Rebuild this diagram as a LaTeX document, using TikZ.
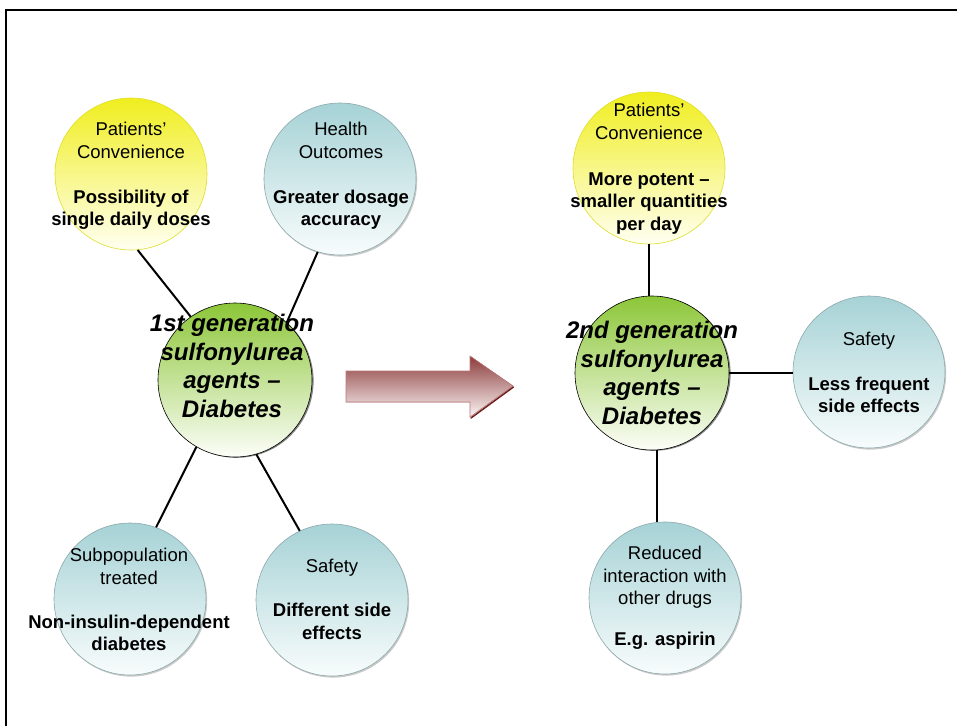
\documentclass[tikz,border=0pt]{standalone}
\usepackage{fontspec}
\setmainfont{Liberation Sans}
\usetikzlibrary{shadows}

\definecolor{yelTop}{RGB}{240,238,30}
\definecolor{yelBot}{RGB}{255,255,242}
\definecolor{yelEdge}{RGB}{222,222,40}
\definecolor{bluTop}{RGB}{166,210,214}
\definecolor{bluBot}{RGB}{248,252,252}
\definecolor{bluEdge}{RGB}{140,168,170}
\definecolor{grnTop}{RGB}{140,198,56}
\definecolor{grnBot}{RGB}{252,254,248}
\definecolor{arrTop}{RGB}{140,60,60}
\definecolor{arrBot}{RGB}{252,246,246}
\definecolor{arrEdge}{RGB}{190,120,120}
\definecolor{arrDark}{RGB}{110,28,28}

\begin{document}
\begin{tikzpicture}[x=1pt,y=-1pt,
  bubble/.style={circle, minimum size=152pt, inner sep=0pt, line width=0.6pt},
  yellowbub/.style={bubble, draw=yelEdge, top color=yelTop, bottom color=yelBot},
  bluebub/.style={bubble, draw=bluEdge, top color=bluTop, bottom color=bluBot,
    drop shadow={shadow xshift=1.2pt, shadow yshift=-1.6pt, opacity=0.35, fill=black!60}},
  hub/.style={bubble, minimum size=154pt, draw=black, top color=grnTop, bottom color=grnBot,
    drop shadow={shadow xshift=1.6pt, shadow yshift=-0.8pt, opacity=0.7, fill=black!70}},
  bubtext/.style={align=center, inner sep=0pt, font=\fontsize{18.5}{22.5}\selectfont},
  hubtext/.style={align=center, inner sep=0pt, font=\fontsize{24}{28.5}\selectfont\bfseries\itshape},
  link/.style={line width=2pt, draw=black},
  frameline/.style={line width=2pt, draw=black}]

\useasboundingbox (0,0) rectangle (957,726);

% page frame
\draw[frameline] (957,10) -- (6,10) -- (6,726);

% ---- first generation cluster ----
\node[yellowbub] (p1)  at (131,174) {};
\node[bluebub]   (ho)  at (340,179) {};
\node[bluebub]   (sub) at (130,599) {};
\node[bluebub]   (sl)  at (332,600) {};
\node[hub]       (c1)  at (235,380) {};

\draw[link] (p1.-85)  -- (c1.125);
\draw[link] (ho.-107) -- (c1.48);
\draw[link] (c1.-120) -- (sub.70);
\draw[link] (c1.-74)  -- (sl.115);

\node[bubtext] (tp1) at (131,176)
  {Patients’\\Convenience\\[22.5pt]\textbf{Possibility of}\\\textbf{single daily doses}};
\node[bubtext] (tho) at (341,176)
  {Health\\Outcomes\\[22.5pt]\textbf{Greater dosage}\\\textbf{accuracy}};
\node[bubtext] (tsub) at (129,599.5)
  {Subpopulation\\treated\\[21.5pt]\textbf{Non-insulin-dependent}\\\textbf{diabetes}};
\node[bubtext] (tsl) at (332,599.5)
  {Safety\\[21.5pt]\textbf{Different side}\\\textbf{effects}};
\node[hubtext] (tc1) at (232,366)
  {1st generation\\sulfonylurea\\agents –\\Diabetes};

% ---- transition arrow ----
\fill[top color=arrTop, bottom color=arrBot]
  (346,371) -- (470,371) -- (470,356) -- (513,386) -- (470,417) -- (470,402) -- (346,402) -- cycle;
\draw[arrEdge, line width=0.6pt]
  (346,371) -- (470,371) -- (470,356) -- (513,386) -- (470,417) -- (470,402) -- (346,402) -- cycle;
\draw[arrDark, line width=1.4pt, line cap=round] (513.5,387) -- (471,418);

% ---- second generation cluster ----
\node[yellowbub] (p2) at (649,168) {};
\node[bluebub]   (sr) at (869,372) {};
\node[bluebub]   (rd) at (665,598) {};
\node[hub]       (c2) at (652,373) {};

\draw[link] (p2.south) -- (p2.south |- c2.north);
\draw[link] (c2.east) -- (c2.east -| sr.west);
\draw[link] (c2.-86) -- (c2.-86 |- rd.north);

\node[bubtext] (tp2) at (649,168.5)
  {Patients’\\Convenience\\[23.5pt]\textbf{More potent –}\\\textbf{smaller quantities}\\\textbf{per day}};
\node[bubtext] (tsr) at (869,372.5)
  {Safety\\[22.5pt]\textbf{Less frequent}\\\textbf{side effects}};
\node[bubtext] (trd) at (665,598)
  {Reduced\\interaction with\\other drugs\\[18.5pt]\textbf{E.g. aspirin}};
\node[hubtext] (tc2) at (652,373)
  {2nd generation\\sulfonylurea\\agents –\\Diabetes};

\end{tikzpicture}
\end{document}
